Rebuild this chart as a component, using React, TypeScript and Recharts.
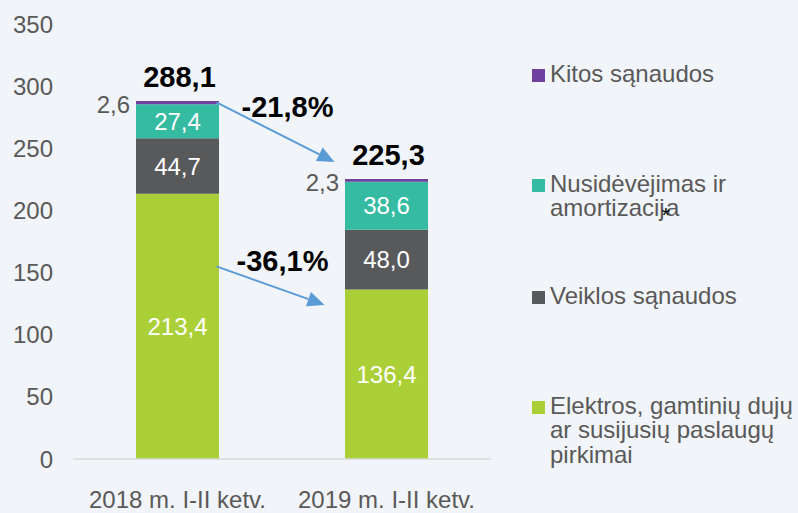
import React from 'react';
import { BarChart, Bar, XAxis, YAxis, LabelList, Legend, ReferenceLine } from 'recharts';

const categories = ['2018 m. I-II ketv.', '2019 m. I-II ketv.'];
const elektros = [213.4, 136.4];
const veiklos = [44.7, 48.0];
const nusidevejimas = [27.4, 38.6];
const kitos = [2.6, 2.3];
const totals = [288.1, 225.3];
const yTicks = [0, 50, 100, 150, 200, 250, 300, 350];

const changeLabels = ['-21,8%', '-36,1%'];
const arrowFrom = [287, 155];
const arrowTo = [239, 124];

const legendOrder = ['kitos', 'nusidevejimas', 'veiklos', 'elektros'];

const seriesNames: Record<string, string> = {
  elektros: 'Elektros, gamtinių dujų\nar susijusių paslaugų\npirkimai',
  veiklos: 'Veiklos sąnaudos',
  nusidevejimas: 'Nusidėvėjimas ir\namortizacija*',
  kitos: 'Kitos sąnaudos',
};

const COLORS = {
  elektros: '#ABCF37',
  veiklos: '#58595B',
  nusidevejimas: '#36BBA3',
  kitos: '#7040A0',
};

const FONT = '"Liberation Sans", Arial, sans-serif';
const GRAY = '#595959';
const BG = '#F1F4F8';

const data = categories.map((c, i) => ({
  cat: c,
  elektros: elektros[i],
  veiklos: veiklos[i],
  nusidevejimas: nusidevejimas[i],
  kitos: kitos[i],
  total: totals[i],
}));

const fmt = (v: any) => Number(v).toFixed(1).replace('.', ',');

const legendTops = [61.5, 171.5, 283.5, 393.5];

const renderLegendText = (text: string) => {
  const lines = text.split('\n');
  return lines.map((ln, i) => {
    if (ln.endsWith('*')) {
      const base = ln.slice(0, -1);
      return (
        <div key={i}>
          {base.slice(0, -1)}
          <span style={{ color: '#000', fontSize: 21, marginLeft: -3, marginRight: -4, position: 'relative', top: 6 }}>*</span>
          {base.slice(-1)}
        </div>
      );
    }
    return <div key={i}>{ln}</div>;
  });
};

const renderLegend = (props: any) => {
  const payload = (props.payload || []) as any[];
  const ordered = legendOrder
    .map((k) => payload.find((p) => p.dataKey === k))
    .filter(Boolean);
  return (
    <div style={{ position: 'relative', width: 266, height: 513 }}>
      {ordered.map((p: any, i: number) => (
        <div
          key={String(p.dataKey)}
          style={{
            position: 'absolute',
            left: 0,
            top: legendTops[i],
            display: 'flex',
            alignItems: 'flex-start',
            fontFamily: FONT,
            fontSize: 24,
            lineHeight: '24.5px',
            color: GRAY,
            whiteSpace: 'nowrap',
          }}
        >
          <div style={{ width: 13, height: 13, background: p.color, marginTop: 7.5, marginRight: 5 }} />
          <div>{renderLegendText(seriesNames[String(p.dataKey)] || String(p.value))}</div>
        </div>
      ))}
    </div>
  );
};

const makeArrow = (idx: number) => (props: any) => {
  const { x1, y1, x2, y2 } = props;
  if (x1 == null) return null;
  const sx = x1 + 39;
  const sy = y1;
  const tx = x2 - (idx === 0 ? 52 : 62);
  const ty = y2;
  const ang = Math.atan2(ty - sy, tx - sx);
  const L = 17;
  const W = 7.5;
  const bx = tx - L * Math.cos(ang);
  const by = ty - L * Math.sin(ang);
  const px = -Math.sin(ang) * W;
  const py = Math.cos(ang) * W;
  const mx = (sx + tx) / 2;
  const my = (sy + ty) / 2;
  return (
    <g>
      <line x1={sx} y1={sy} x2={bx} y2={by} stroke="#5B9BD5" strokeWidth={2} />
      <polygon points={`${tx},${ty} ${bx + px},${by + py} ${bx - px},${by - py}`} fill="#5B9BD5" />
      <text x={mx + 12} y={my - 15} textAnchor="middle" fontFamily={FONT} fontSize={29} fontWeight="bold" fill="#000">
        {changeLabels[idx]}
      </text>
    </g>
  );
};

const smallLabel = (props: any) => {
  const { x, y, height, value } = props;
  return (
    <text x={x - 6} y={y + height / 2 + 2} textAnchor="end" dominantBaseline="central" fontFamily={FONT} fontSize={24} fill={GRAY}>
      {fmt(value)}
    </text>
  );
};

const totalLabel = (props: any) => {
  const { x, y, width, value } = props;
  return (
    <text x={x + width / 2 + 2} y={y - 14} textAnchor="middle" fontFamily={FONT} fontSize={29} fontWeight="bold" fill="#000">
      {fmt(value)}
    </text>
  );
};

export default function App() {
  return (
    <div style={{ position: 'absolute', left: 0, top: 0, width: 798, height: 513, background: BG, overflow: 'hidden' }}>
      <BarChart width={798} height={513} data={data} margin={{ top: 24, right: 307, bottom: 0, left: 0 }}>
        <XAxis
          dataKey="cat"
          height={54}
          tickLine={false}
          tickSize={0}
          tickMargin={32}
          axisLine={{ stroke: '#D9D9D9', strokeWidth: 1.5 }}
          tick={{ fontFamily: FONT, fontSize: 24, fill: GRAY }}
          interval={0}
        />
        <YAxis
          width={73}
          domain={[0, 350]}
          ticks={yTicks}
          axisLine={false}
          tickLine={false}
          tickSize={0}
          tickMargin={20}
          tick={{ fontFamily: FONT, fontSize: 24, fill: GRAY }}
        />
        <Bar dataKey="elektros" stackId="a" name="Elektros, gamtinių dujų ar susijusių paslaugų pirkimai" fill={COLORS.elektros} barSize={83} isAnimationActive={false}>
          <LabelList dataKey="elektros" position="center" fill="#FFFFFF" fontFamily={FONT} fontSize={24} formatter={fmt} />
        </Bar>
        <Bar dataKey="veiklos" stackId="a" name="Veiklos sąnaudos" fill={COLORS.veiklos} barSize={83} isAnimationActive={false}>
          <LabelList dataKey="veiklos" position="center" fill="#FFFFFF" fontFamily={FONT} fontSize={24} formatter={fmt} />
        </Bar>
        <Bar dataKey="nusidevejimas" stackId="a" name="Nusidėvėjimas ir amortizacija*" fill={COLORS.nusidevejimas} barSize={83} isAnimationActive={false}>
          <LabelList dataKey="nusidevejimas" position="center" fill="#FFFFFF" fontFamily={FONT} fontSize={24} formatter={fmt} />
        </Bar>
        <Bar dataKey="kitos" stackId="a" name="Kitos sąnaudos" fill={COLORS.kitos} barSize={83} isAnimationActive={false}>
          <LabelList dataKey="kitos" content={smallLabel} />
          <LabelList dataKey="total" content={totalLabel} />
        </Bar>
        <ReferenceLine
          segment={[{ x: categories[0], y: arrowFrom[0] }, { x: categories[1], y: arrowTo[0] }]}
          shape={makeArrow(0)}
          ifOverflow="visible"
        />
        <ReferenceLine
          segment={[{ x: categories[0], y: arrowFrom[1] }, { x: categories[1], y: arrowTo[1] }]}
          shape={makeArrow(1)}
          ifOverflow="visible"
        />
        <Legend
          layout="vertical"
          align="center"
          verticalAlign="middle"
          content={renderLegend}
          wrapperStyle={{ left: 532, top: 0, width: 266, height: 513 }}
        />
      </BarChart>
    </div>
  );
}
